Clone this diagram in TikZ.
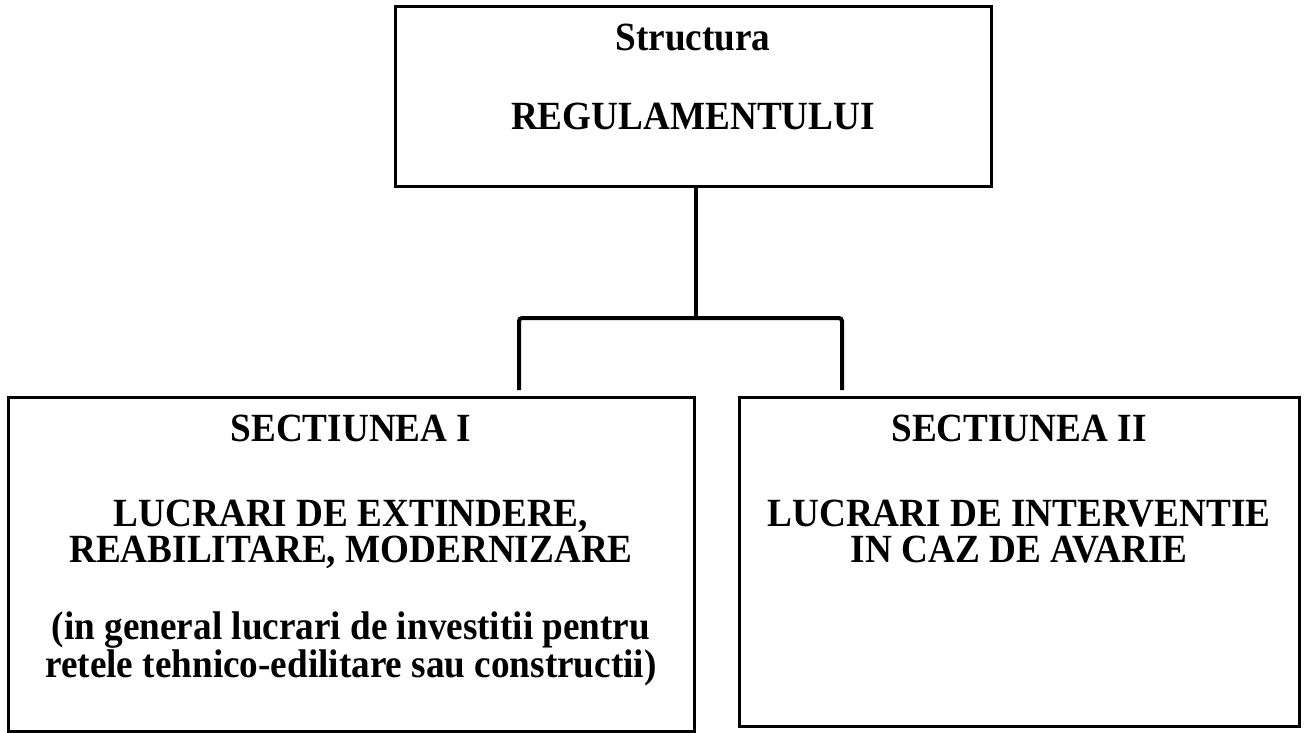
\documentclass[tikz,border=0pt]{standalone}
\usepackage{fontspec}
\setmainfont{Liberation Serif}[FakeStretch=0.93]
\usetikzlibrary{positioning}

\begin{document}
\begin{tikzpicture}[x=1pt, y=-1pt,
    secbox/.style={draw, line width=3pt, inner sep=0pt},
    sectext/.style={align=center, inner sep=0pt, font=\bfseries\fontsize{40}{36}\selectfont},
    conn/.style={line width=4pt, rounded corners=3pt}]

  \useasboundingbox (0,0) rectangle (1309,733);

  \node[secbox, minimum width=596pt, minimum height=179pt] (reg) at (693,96.5) {};
    \node[sectext] (reg_t) [below=18.5pt of reg.north] {Structura\\[43pt]REGULAMENTULUI};

  \node[secbox, minimum width=686pt, minimum height=334pt] (sec1) at (351,564) {};
    \node[sectext] (sec1_t) [below=19.5pt of sec1.north]
      {SECTIUNEA I\\[49pt]LUCRARI DE EXTINDERE,\\REABILITARE, MODERNIZARE\\[41pt]%
       (in general lucrari de investitii pentru\\retele tehnico-edilitare sau constructii)};

  \node[secbox, minimum width=560pt, minimum height=329pt] (sec2) at (1019,561.5) {};
    \node[sectext] (sec2_t) [below=19.5pt of sec2.north]
      {SECTIUNEA II\\[49pt]LUCRARI DE INTERVENTIE\\IN CAZ DE AVARIE};

  % ramificatie
  \coordinate (fork) at (696,318);
  \coordinate (sec1_in) at (519,390);
  \coordinate (sec2_in) at (842,390);
  \draw[conn] (reg.south -| fork) -- (fork);
  \draw[conn] (sec1_in) |- (fork) -| (sec2_in);

\end{tikzpicture}
\end{document}
